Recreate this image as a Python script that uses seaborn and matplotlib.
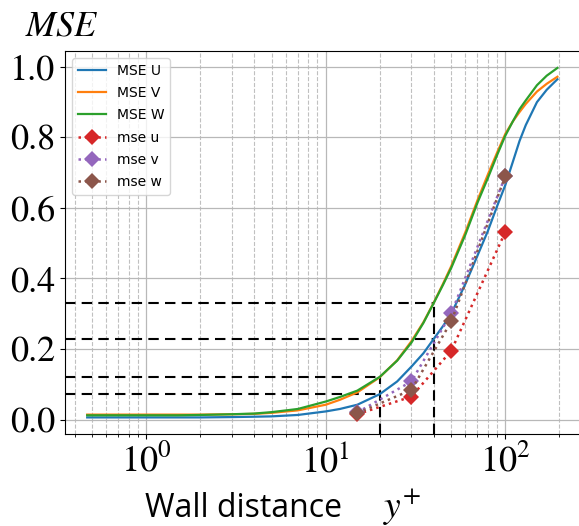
import matplotlib
matplotlib.use("Agg")
import matplotlib.pyplot as plt
import matplotlib.ticker as mticker
import seaborn as sns
import pandas as pd
import numpy as np

plt.rcParams['font.family'] = ['STIXGeneral', 'DejaVu Serif']
plt.rcParams['mathtext.fontset'] = 'stix'

# ---- data -------------------------------------------------------------
yplus = [0.47, 0.7, 1, 1.5, 2, 3, 4, 5, 7, 10, 12, 15, 20, 25, 30, 35, 40, 45, 50, 60, 70, 80,
         90, 100, 110, 120, 130, 150, 170, 195]
mse_U = [0.006, 0.006, 0.006, 0.006, 0.006, 0.007, 0.008, 0.009, 0.013, 0.023, 0.030, 0.042, 0.072,
         0.108, 0.150, 0.188, 0.229, 0.265, 0.300, 0.385, 0.465, 0.535, 0.605, 0.665, 0.730, 0.790,
         0.835, 0.900, 0.935, 0.965]
mse_V = [0.014, 0.014, 0.014, 0.014, 0.014, 0.015, 0.016, 0.019, 0.026, 0.042, 0.056, 0.077, 0.120,
         0.168, 0.222, 0.276, 0.332, 0.385, 0.435, 0.532, 0.622, 0.695, 0.757, 0.810, 0.845, 0.872,
         0.895, 0.930, 0.952, 0.972]
mse_W = [0.012, 0.012, 0.012, 0.012, 0.013, 0.015, 0.017, 0.021, 0.030, 0.051, 0.064, 0.082, 0.121,
         0.167, 0.218, 0.274, 0.331, 0.382, 0.430, 0.525, 0.615, 0.685, 0.750, 0.805, 0.845, 0.880,
         0.905, 0.948, 0.975, 0.997]

yplus_pts = [15, 30, 50, 100]
pts_u = [0.015, 0.065, 0.195, 0.532]
pts_v = [0.020, 0.108, 0.301, 0.690]
pts_w = [0.018, 0.084, 0.278, 0.690]

ref_x = [20, 40]
ref_lo = [0.072, 0.229]
ref_hi = [0.121, 0.331]

# ---- figure -----------------------------------------------------------
W, H = 579, 526
fig = plt.figure(figsize=(W / 100, H / 100), dpi=100)
ax = fig.add_axes([65.3 / W, (H - 434) / H, (582.8 - 65.3) / W, (434 - 51) / H])

xmin, xmax = 0.355, 270
ymin, ymax = -0.041, 1.045

curves = pd.DataFrame({'y': yplus, 'U': mse_U, 'V': mse_V, 'W': mse_W})
pts = pd.DataFrame({'y': yplus_pts, 'u': pts_u, 'v': pts_v, 'w': pts_w})

sns.lineplot(data=curves, x='y', y='U', ax=ax, color='#1f77b4', lw=1.6, label='MSE U')
sns.lineplot(data=curves, x='y', y='V', ax=ax, color='#ff7f0e', lw=1.6, label='MSE V')
sns.lineplot(data=curves, x='y', y='W', ax=ax, color='#2ca02c', lw=1.6, label='MSE W')
sns.lineplot(data=pts, x='y', y='u', ax=ax, color='#d62728', ls=':', lw=1.8,
             marker='D', markersize=8.5, markeredgewidth=0, label='mse u')
sns.lineplot(data=pts, x='y', y='v', ax=ax, color='#9467bd', ls=':', lw=1.8,
             marker='D', markersize=8.5, markeredgewidth=0, label='mse v')
sns.lineplot(data=pts, x='y', y='w', ax=ax, color='#8c564b', ls=':', lw=1.8,
             marker='D', markersize=8.5, markeredgewidth=0, label='mse w')

# reference dashed lines
for rx, lo, hi in zip(ref_x, ref_lo, ref_hi):
    ax.hlines([lo, hi], xmin, rx, colors='black', linestyles=(0, (5, 3)), lw=1.5, zorder=1.5)
    ax.vlines(rx, ymin, hi, colors='black', linestyles=(0, (5, 3)), lw=1.5, zorder=1.5)

ax.set_xscale('log')
ax.set_xlim(xmin, xmax)
ax.set_ylim(ymin, ymax)
ax.set_yticks([0.0, 0.2, 0.4, 0.6, 0.8, 1.0])
ax.yaxis.set_major_formatter(mticker.FormatStrFormatter('%.1f'))
ax.xaxis.set_minor_locator(mticker.LogLocator(base=10, subs=np.arange(2, 10)))
ax.xaxis.set_minor_formatter(mticker.NullFormatter())

ax.grid(True, which='major', axis='both', color='#b8b8b8', lw=0.9, ls='-', zorder=0)
ax.grid(True, which='minor', axis='x', color='#c0c0c0', lw=0.8, ls='--', zorder=0)
ax.set_axisbelow(True)

ax.tick_params(axis='both', which='major', labelsize=26)
ax.tick_params(axis='x', which='major', pad=4)
ax.set_xlabel('')
ax.set_ylabel('')

fig.text(145 / W, 1 - 517 / H, 'Wall distance', fontsize=23,
         family=['Open Sans', 'DejaVu Sans'], ha='left', va='baseline')
fig.text(383 / W, 1 - 517 / H, '$y^{+}$', fontsize=27, ha='left', va='baseline')
fig.text(25 / W, 1 - 35 / H, '$MSE$', fontsize=26, ha='left', va='baseline')

leg = ax.legend(loc='upper left', prop={'family': 'DejaVu Sans', 'size': 10}, labelspacing=0.6)

fig.savefig('out.png', dpi=100)
